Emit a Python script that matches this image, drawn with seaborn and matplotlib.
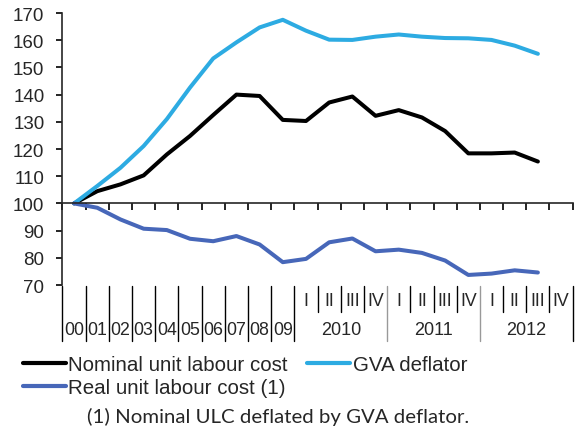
import numpy as np
import pandas as pd
import seaborn as sns
import matplotlib.pyplot as plt
from matplotlib.lines import Line2D

# category labels
annual_labels = ["00", "01", "02", "03", "04", "05", "06", "07", "08", "09"]
quarter_labels = ["I", "II", "III", "IV"]
quarter_years = ["2010", "2011", "2012"]

# series (index 2000 = 100), 00-09 annual then 2010 Q1 .. 2012 Q3
nominal_ulc = [100, 104.5, 107, 110.3, 118, 124.8, 132.5, 140, 139.5, 130.7,
               130.3, 137.1, 139.3, 132.2, 134.3, 131.6, 126.6, 118.4, 118.4, 118.7, 115.4]
gva_deflator = [100, 106.4, 113.1, 121.1, 131, 142.6, 153.3, 159.2, 164.7, 167.5,
                163.5, 160.2, 160.1, 161.3, 162.1, 161.3, 160.8, 160.7, 160.1, 158, 155]
real_ulc = [100, 98.4, 94.1, 90.7, 90.2, 87, 86.1, 88, 84.9, 78.4,
            79.6, 85.7, 87.1, 82.4, 83, 81.8, 79, 73.7, 74.2, 75.4, 74.6]

series_names = ["Nominal unit labour cost", "GVA deflator", "Real unit labour cost (1)"]
colors = ["#000000", "#2DABE2", "#4767B9"]
footnote = "(1) Nominal ULC deflated by GVA deflator."

sns.set_style("ticks")
plt.rcParams['font.family'] = ['Liberation Sans', 'DejaVu Sans']

n_cat = len(annual_labels) + len(quarter_years) * len(quarter_labels)
pos = np.arange(len(nominal_ulc)) + 0.5
df = pd.DataFrame({
    "pos": np.tile(pos, 3),
    "value": nominal_ulc + gva_deflator + real_ulc,
    "series": np.repeat(series_names, len(pos)),
})

fig = plt.figure(figsize=(5.77, 4.31), dpi=100)
ax = fig.add_axes([0.1083, 0.3364, 0.8842, 0.6311])

sns.lineplot(data=df, x="pos", y="value", hue="series", palette=dict(zip(series_names, colors)),
             linewidth=2.9, legend=False, ax=ax, sort=False)

ax.set_xlim(0, n_cat)
ax.set_ylim(70, 170)
ax.set_yticks(np.arange(70, 171, 10))
ax.set_xticks(np.arange(0, n_cat + 1))
ax.set_xticklabels([])
ax.set_xlabel("")
ax.set_ylabel("")
for s in ["top", "right"]:
    ax.spines[s].set_visible(False)
ax.spines["bottom"].set_position(("data", 100))
ax.spines["bottom"].set_linewidth(1.2)
ax.spines["left"].set_linewidth(1.2)
ax.tick_params(axis="x", direction="out", length=5, width=1.2, color="black")
ax.tick_params(axis="y", direction="out", length=4.5, width=1.2, color="black",
               labelsize=13.5, pad=8.5)

# multi-level category labels below the plot
tr = ax.get_xaxis_transform()
y_top, y_mid, y_bot = -0.004, -0.099, -0.206
for k in range(len(annual_labels) + 1):
    ax.plot([k, k], [y_top, y_bot], color="black", lw=1, transform=tr, clip_on=False)
for i, lab in enumerate(annual_labels):
    ax.text(i + 0.5, -0.162, lab, transform=tr, ha="center", va="center", fontsize=12.8)
start = len(annual_labels)
for j, yr in enumerate(quarter_years):
    base = start + j * len(quarter_labels)
    for q, ql in enumerate(quarter_labels):
        ax.text(base + q + 0.5, -0.058, ql, transform=tr, ha="center", va="center", fontsize=12.8)
        if q > 0:
            ax.plot([base + q, base + q], [y_top, y_mid], color="black", lw=1, transform=tr, clip_on=False)
    ax.text(base + len(quarter_labels) / 2, -0.162, yr, transform=tr, ha="center", va="center", fontsize=13)
    end = base + len(quarter_labels)
    sep_color = "black" if j == len(quarter_years) - 1 else "#999999"
    ax.plot([end, end], [y_top, y_bot], color=sep_color, lw=1, transform=tr, clip_on=False)

handles = [Line2D([], [], color=colors[0], lw=3),
           Line2D([], [], color=colors[2], lw=3),
           Line2D([], [], color=colors[1], lw=3)]
labels = [series_names[0], series_names[2], series_names[1]]
fig.legend(handles, labels, loc="upper left", bbox_to_anchor=(0.04, 0.173), ncol=2, frameon=False,
           fontsize=14.8, handlelength=2.1, handletextpad=0.1, columnspacing=0.95,
           labelspacing=0.17, borderaxespad=0, borderpad=0)

fig.text(0.482, 0.032, footnote, ha="center", va="center", fontsize=14.7, family=["Lato", "DejaVu Sans"])

fig.savefig("out.png", dpi=100)
